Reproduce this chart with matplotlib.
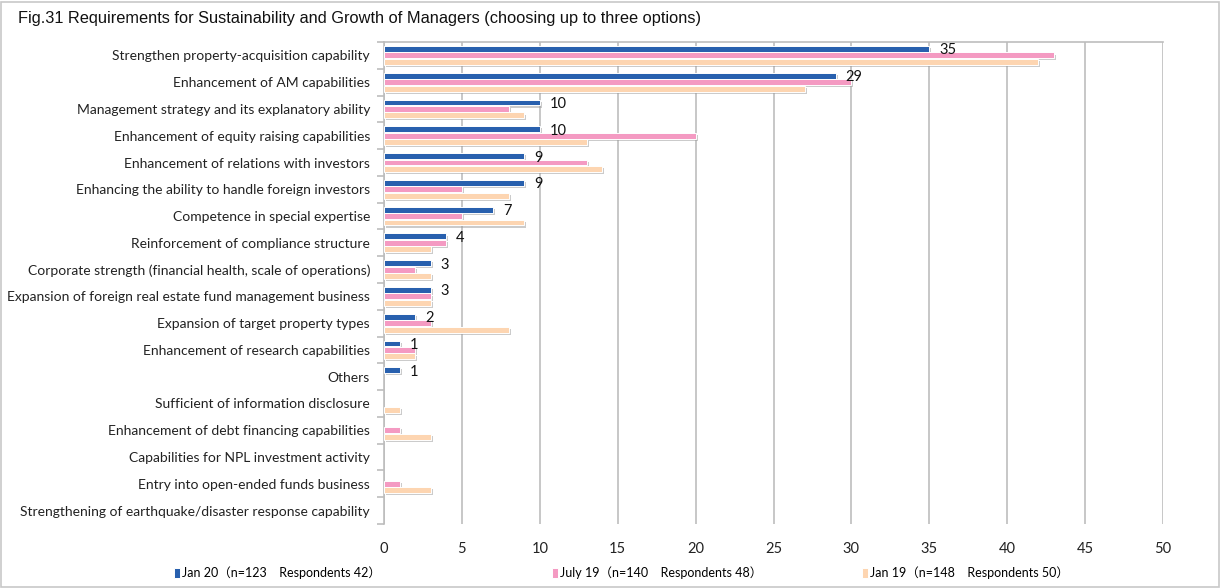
import numpy as np
import matplotlib.pyplot as plt
import matplotlib.patheffects as pe
from matplotlib.patches import Rectangle

# Data
categories = [
    "Strengthen property-acquisition capability",
    "Enhancement of AM capabilities",
    "Management strategy and its explanatory ability",
    "Enhancement of equity raising capabilities",
    "Enhancement of relations with investors",
    "Enhancing the ability to handle foreign investors",
    "Competence in special expertise",
    "Reinforcement of compliance structure",
    "Corporate strength (financial health, scale of operations)",
    "Expansion of foreign real estate fund management business",
    "Expansion of target property types",
    "Enhancement of research capabilities",
    "Others",
    "Sufficient of information disclosure",
    "Enhancement of debt financing capabilities",
    "Capabilities for NPL investment activity",
    "Entry into open-ended funds business",
    "Strengthening of earthquake/disaster response capability",
]
jan20 = [35, 29, 10, 10, 9, 9, 7, 4, 3, 3, 2, 1, 1, 0, 0, 0, 0, 0]
jul19 = [43, 30, 8, 20, 13, 5, 5, 4, 2, 3, 3, 2, 0, 0, 1, 0, 1, 0]
jan19 = [42, 27, 9, 13, 14, 8, 9, 3, 3, 3, 8, 2, 0, 1, 3, 0, 3, 0]
series_names = ["Jan 20（n=123\u3000Respondents 42）",
                "July 19（n=140\u3000Respondents 48）",
                "Jan 19（n=148\u3000Respondents 50）"]
colors = ["#2860AE", "#F49AC2", "#FDD5B1"]

FONT = ["Lato", "Noto Sans CJK JP", "DejaVu Sans"]
plt.rcParams['font.family'] = FONT

fig = plt.figure(figsize=(12.21, 5.88), dpi=100)
ax = fig.add_axes([384 / 1221, 1 - 524 / 588, (1163 - 384) / 1221, (524 - 42) / 588])

y = np.arange(len(categories))
h = 0.22
offs = [-0.24, 0.0, 0.24]
shadow = [pe.SimplePatchShadow(offset=(1.5, -1.5), shadow_rgbFace="#999999", alpha=0.5), pe.Normal()]
handles = []
for vals, off, c, name in zip([jan20, jul19, jan19], offs, colors, series_names):
    bars = ax.barh(y + off, vals, height=h, color=c, edgecolor="white", linewidth=0.7,
                   label=name, zorder=3)
    for b, v in zip(bars, vals):
        if v > 0:
            b.set_path_effects(shadow)
        else:
            b.set_visible(False)
    handles.append(bars)

# data labels only for the latest survey, non-zero values
for yi, v in zip(y, jan20):
    if v == 0:
        continue
    ax.annotate(str(v), (v, yi - 0.24), xytext=(7, 0), textcoords="offset points",
                ha="left", va="center_baseline", fontsize=10.5, color="#111111", zorder=4)

ax.set_xlim(0, 50)
ax.set_ylim(len(categories) - 0.5, -0.5)
ax.set_xticks(np.arange(0, 51, 5))
ax.tick_params(axis="x", length=0, labelsize=10.5, pad=13, colors="#222222")
ax.grid(axis="x", color="#BDBDBD", linewidth=1.2, zorder=0)
ax.set_yticks(y)
ax.set_yticklabels(categories, fontsize=10, color="#222222")
ax.set_yticks(np.arange(-0.5, len(categories), 1), minor=True)
ax.tick_params(axis="y", which="major", length=0, pad=10)
ax.tick_params(axis="y", which="minor", length=5, color="#BDBDBD", width=1.2)
for s in ["right", "bottom"]:
    ax.spines[s].set_visible(False)
for s in ["left", "top"]:
    ax.spines[s].set_color("#BDBDBD")
    ax.spines[s].set_linewidth(1.2)

fig.text(18 / 1221, 1 - 18 / 588, "Fig.31 Requirements for Sustainability and Growth of Managers (choosing up to three options)",
         fontsize=11.8, family=["Liberation Sans", "DejaVu Sans"], va="center", ha="left", color="#111111")

# one legend per series, spaced like the original
for hnd_bars, name, xpos in zip(handles, series_names, [163, 541, 851]):
    leg = fig.legend(handles=[hnd_bars], labels=[name], loc="center left",
                     bbox_to_anchor=(xpos / 1221, 1 - 573 / 588), frameon=False,
                     handlelength=0.45, handleheight=0.9, handletextpad=0.2,
                     prop={"family": FONT, "size": 9})
    for hnd in leg.legend_handles:
        hnd.set_path_effects([])

fig.patches.append(Rectangle((1 / 1221, 1 / 588), 1218 / 1221, 585 / 588, transform=fig.transFigure,
                             fill=False, edgecolor="#C8C8C8", linewidth=1.2))

fig.savefig("out.png", dpi=100)
